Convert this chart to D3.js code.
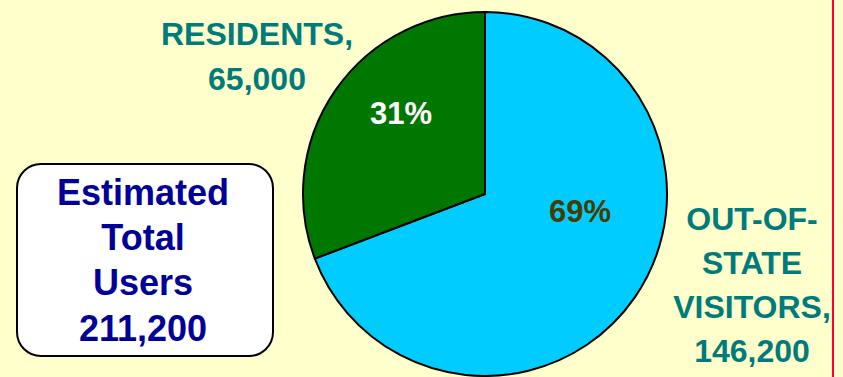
<!DOCTYPE html>
<html>
<head>
<meta charset="utf-8">
<script src="https://cdn.jsdelivr.net/npm/d3@7"></script>
<style>
  html, body { margin: 0; padding: 0; background: #FFFFCC; }
  svg { display: block; }
  text { font-family: "Liberation Sans", Arial, sans-serif; font-weight: bold; }
</style>
</head>
<body>
<svg id="chart" width="843" height="377"></svg>
<script>
// ---- data ----
const categories = ["OUT-OF-STATE VISITORS", "RESIDENTS"];
const values = [146200, 65000];
const percentLabels = ["69%", "31%"];
const categoryLabelLines = [
  ["OUT-OF-", "STATE", "VISITORS,", "146,200"],
  ["RESIDENTS,", "65,000"]
];
const totalLines = ["Estimated", "Total", "Users", "211,200"];

// ---- layout ----
const W = 843, H = 377;
const cx = 485, cy = 194, R = 182;
const sliceColors = ["#00CCFF", "#007700"];
const pctColors = ["#463C00", "#FFFFFF"];
const labelColor = "#007B7B";

const svg = d3.select("#chart");
svg.append("rect").attr("width", W).attr("height", H).attr("fill", "#FFFFCC");

// right red rule
svg.append("line").attr("x1", 833).attr("x2", 833).attr("y1", 0).attr("y2", H)
  .attr("stroke", "#FF0033").attr("stroke-width", 2);

const data = categories.map((c, i) => ({ name: c, value: values[i], i }));
const pie = d3.pie().value(d => d.value).sort(null);
const arcs = pie(data);
const arc = d3.arc().innerRadius(0).outerRadius(R);

const g = svg.append("g").attr("transform", `translate(${cx},${cy})`);
g.selectAll("path.slice").data(arcs).join("path")
  .attr("class", "slice")
  .attr("d", arc)
  .attr("fill", d => sliceColors[d.data.i])
  .attr("stroke", "#000")
  .attr("stroke-width", 2)
  .attr("stroke-linejoin", "round");

// percent labels inside
const pctPos = [[95, 28], [-84, -70]];
g.selectAll("text.pct").data(arcs).join("text")
  .attr("class", "pct")
  .attr("x", d => pctPos[d.data.i][0])
  .attr("y", d => pctPos[d.data.i][1])
  .attr("text-anchor", "middle")
  .attr("font-size", 31)
  .attr("fill", d => pctColors[d.data.i])
  .text(d => percentLabels[d.data.i]);

// category labels outside
const labelAnchors = [{ x: 752, y: 230, dy: 44 }, { x: 257, y: 45, dy: 45 }];
data.forEach((d, i) => {
  const a = labelAnchors[i];
  const t = svg.append("text")
    .attr("text-anchor", "middle")
    .attr("font-size", 32)
    .attr("fill", labelColor);
  categoryLabelLines[i].forEach((line, k) => {
    t.append("tspan").attr("x", a.x).attr("y", a.y + k * a.dy).text(line);
  });
});

// total box
svg.append("rect")
  .attr("x", 17).attr("y", 164).attr("width", 256).attr("height", 192)
  .attr("rx", 24).attr("ry", 24)
  .attr("fill", "#FFFFFF").attr("stroke", "#000").attr("stroke-width", 2);
const tt = svg.append("text")
  .attr("text-anchor", "middle")
  .attr("font-size", 36)
  .attr("fill", "#000099");
totalLines.forEach((line, k) => {
  tt.append("tspan").attr("x", 143).attr("y", 205 + k * 45.2).text(line);
});
</script>
</body>
</html>
